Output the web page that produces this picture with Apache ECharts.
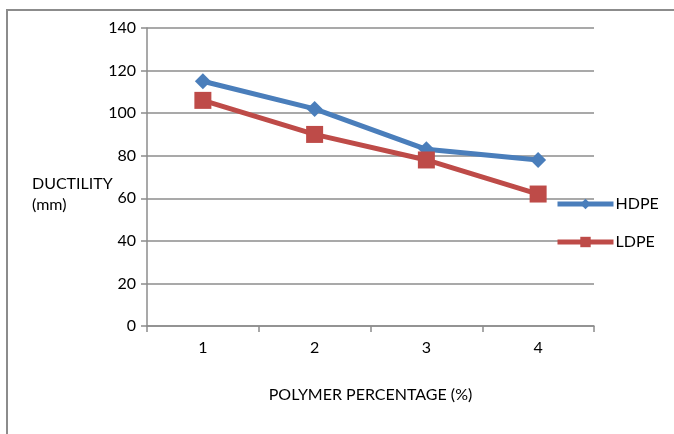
<!DOCTYPE html>
<html>
<head>
<meta charset="utf-8">
<script src="https://cdn.jsdelivr.net/npm/echarts@6/dist/echarts.min.js"></script>
<style>
  html, body { margin: 0; padding: 0; background: #fff; }
  #chart { width: 674px; height: 434px; }
</style>
</head>
<body>
<div id="chart"></div>
<script>
// Ductility of polymer-modified samples
const categories = ['1', '2', '3', '4'];
const hdpe = [115, 102, 83, 78];
const ldpe = [106, 90, 78, 62];
const yTicks = { min: 0, max: 140, interval: 20 };

const FONT = 'Lato, "Open Sans", sans-serif';
const FS = 16;
const chart = echarts.init(document.getElementById('chart'));

chart.setOption({
  backgroundColor: '#fff',
  animation: false,
  textStyle: { fontFamily: FONT },
  grid: { left: 147, right: 80, top: 28, bottom: 108 },
  graphic: [
    {
      type: 'rect',
      shape: { x: 7, y: 10, width: 700, height: 460 },
      style: { fill: 'none', stroke: '#8c8c8c', lineWidth: 2 },
      silent: true
    },
    {
      type: 'text',
      left: 32, top: 173,
      style: {
        text: 'DUCTILITY\n(mm)',
        fontSize: FS,
        fontFamily: FONT,
        fill: '#000',
        lineHeight: 21
      }
    }
  ],
  legend: {
    orient: 'vertical',
    left: 555,
    top: 196,
    padding: 0,
    itemWidth: 56,
    itemHeight: 13,
    itemGap: 22,
    lineStyle: { width: 5 },
    textStyle: { fontSize: FS, color: '#000', fontFamily: FONT, padding: [0, 0, 0, -3] },
    data: ['HDPE', 'LDPE']
  },
  xAxis: {
    type: 'category',
    data: categories,
    boundaryGap: true,
    name: 'POLYMER PERCENTAGE (%)',
    nameLocation: 'middle',
    nameGap: 61,
    nameTextStyle: { fontSize: FS, color: '#000', fontFamily: FONT },
    axisLine: { lineStyle: { color: '#8c8c8c', width: 1.5 } },
    axisTick: { show: true, length: 6, inside: false, lineStyle: { color: '#8c8c8c', width: 1.5 } },
    axisLabel: { fontSize: FS, color: '#000', margin: 14 }
  },
  yAxis: {
    type: 'value',
    min: yTicks.min,
    max: yTicks.max,
    interval: yTicks.interval,
    axisLine: { show: true, lineStyle: { color: '#8c8c8c', width: 1.5 } },
    axisTick: { show: true, length: 6, lineStyle: { color: '#8c8c8c', width: 1.5 } },
    axisLabel: { fontSize: FS, color: '#000', margin: 11 },
    splitLine: { show: true, lineStyle: { color: '#8c8c8c', width: 1.5 } }
  },
  series: [
    {
      name: 'HDPE',
      type: 'line',
      data: hdpe,
      color: '#4a7ebb',
      symbol: 'diamond',
      symbolSize: 16,
      lineStyle: { width: 5, color: '#4a7ebb' },
      itemStyle: { color: '#4a7ebb' },
      z: 3
    },
    {
      name: 'LDPE',
      type: 'line',
      data: ldpe,
      color: '#be4b48',
      symbol: 'rect',
      symbolSize: 17,
      lineStyle: { width: 5, color: '#be4b48' },
      itemStyle: { color: '#be4b48' },
      z: 4
    }
  ]
});
</script>
</body>
</html>
